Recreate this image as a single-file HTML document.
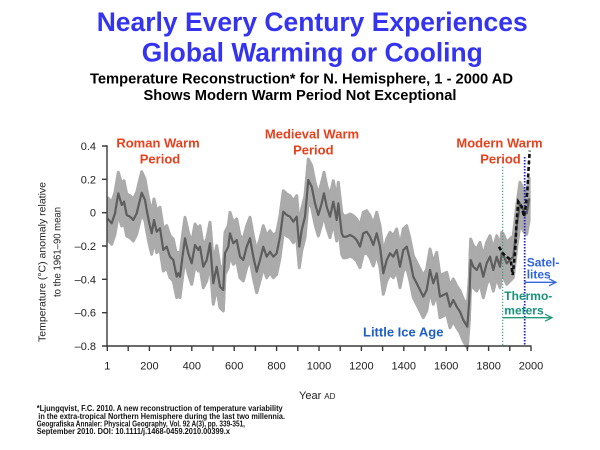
<!DOCTYPE html>
<html><head><meta charset="utf-8">
<style>
html,body{margin:0;padding:0;background:#fff;}
svg{display:block;font-family:"Liberation Sans",Arial,sans-serif;}
</style></head>
<body>
<svg width="600" height="450" viewBox="0 0 600 450" xmlns="http://www.w3.org/2000/svg">
<defs>
<polyline id="m" points="107.3,218.3 111.7,223.3 115,213.3 118.3,193.3 121.7,205 124,201.7 126.7,215 130,216.7 133.3,220 136.7,213.3 141.7,192.7 145,200 146.7,210 149.3,223.3 151.7,233.3 154,220 156.7,231.7 160,228.3 163.3,250 166.7,246.7 170,256.7 173.3,260 176.7,276.7 178.3,273.3 180,276.7 182.7,255 185,238.3 188.3,253.3 191.7,263.3 195,245 198.3,250 200,246.7 203.3,266.7 206.7,260 210,243.3 213.3,283.3 216.7,266.7 220,286.7 223.3,290 225,253.3 228.3,246.7 230,233.3 233.3,243.3 236.7,240 240,256.7 243.3,260 246.7,246.7 250,238.3 253.3,256.7 256.7,271.7 260,260 263.3,246.7 266.7,256.7 270,251.7 273.3,256.7 276.7,253.3 280,236.7 283.3,211.7 286.7,215 290,216.7 293.3,221.7 296.7,216.7 299.3,246.7 301.7,230 305,216.7 308.3,180 311.7,186.7 315,203.3 318.3,215 321.7,203.3 324,193.3 326.7,206.7 330,216.7 333.3,201.7 336.7,220 338.3,203.3 341.7,233.3 343.3,236.7 346.7,236.7 350,235 353.3,236.7 356.7,240 360,246.7 363.3,233.3 366.7,231.7 370,236.7 373.3,245 376.7,233.3 380,246.7 383.3,273.3 386.7,260 390,253.3 393.3,256.7 396.7,250 400,266.7 403.3,250 406.7,246.7 410,260 413.3,276.7 416.7,283.3 420,290 423.3,296.7 426.7,290 430,270 433.3,283.3 436.7,273.3 440,296.7 443.3,295 446.7,293.3 450,306.7 453.3,300 456.7,306.7 460,311.7 463.3,320 467.3,326.7 469.3,300 470.7,260 473.3,266.7 476.7,270 480,263.3 483.3,276.7 486.7,263.3 490,256.7 493.3,270 496.7,256.7 500,266.7 501.7,253.3 503.3,255 506.7,263.3 510,260 513.3,256.7 516.7,226.7 520,203.3 523.3,210 526.7,213.3 529.3,198.3"/>
<marker id="ab" markerWidth="8" markerHeight="8" refX="6" refY="4" orient="auto" markerUnits="userSpaceOnUse"><path d="M0,0.5 L7,4 L0,7.5" fill="none" stroke="#3366dd" stroke-width="1.3"/></marker>
<marker id="ag" markerWidth="8" markerHeight="8" refX="6" refY="4" orient="auto" markerUnits="userSpaceOnUse"><path d="M0,0.5 L7,4 L0,7.5" fill="none" stroke="#22997a" stroke-width="1.3"/></marker>
</defs>

<!-- Titles -->
<text x="312.2" y="31" font-size="26.6" font-weight="bold" fill="#3434f0" text-anchor="middle" textLength="431" lengthAdjust="spacingAndGlyphs">Nearly Every Century Experiences</text>
<text x="312.3" y="61.7" font-size="26.6" font-weight="bold" fill="#3434f0" text-anchor="middle" textLength="341" lengthAdjust="spacingAndGlyphs">Global Warming or Cooling</text>
<text x="301.5" y="83.3" font-size="14.7" font-weight="bold" fill="#000" text-anchor="middle" textLength="423" lengthAdjust="spacingAndGlyphs">Temperature Reconstruction* for N. Hemisphere, 1 - 2000 AD</text>
<text x="300" y="100" font-size="14.7" font-weight="bold" fill="#000" text-anchor="middle" textLength="313" lengthAdjust="spacingAndGlyphs">Shows Modern Warm Period Not Exceptional</text>

<!-- Band (union of vertically shifted copies) -->
<g fill="none" stroke="#ababab" stroke-width="3" stroke-linejoin="round">
<use href="#m" y="-21"/><use href="#m" y="-19"/><use href="#m" y="-17"/><use href="#m" y="-15"/><use href="#m" y="-13"/><use href="#m" y="-11"/><use href="#m" y="-9"/><use href="#m" y="-7"/><use href="#m" y="-5"/><use href="#m" y="-3"/><use href="#m" y="-1"/><use href="#m" y="1"/><use href="#m" y="3"/><use href="#m" y="5"/><use href="#m" y="7"/><use href="#m" y="9"/><use href="#m" y="11"/><use href="#m" y="13"/><use href="#m" y="15"/><use href="#m" y="17"/><use href="#m" y="19"/><use href="#m" y="21"/>
</g>
<!-- Mean line -->
<use href="#m" fill="none" stroke="#5e5e5e" stroke-width="2.2" stroke-linejoin="round"/>

<!-- Vertical dotted lines -->
<line x1="502.7" y1="166.7" x2="502.7" y2="346" stroke="#2a9a6a" stroke-width="1.2" stroke-dasharray="1.2,1.8"/>
<line x1="524.7" y1="157" x2="524.7" y2="346" stroke="#2222cc" stroke-width="1.8" stroke-dasharray="1.5,1.5"/>

<!-- Black dashed instrumental line -->
<polyline points="499,246.7 502.7,253.3 506.7,256.7 510.7,260 512.7,275 515,253.3 516.7,220 518.3,201.7 521.7,206.7 524,216.7 525.7,206.7 527.3,191.7 528.3,173.3 529.7,150.7" fill="none" stroke="#111" stroke-width="2.6" stroke-dasharray="4,2.5"/>

<!-- Axes -->
<g stroke="#3a3a3a" stroke-width="1.4" fill="none">
<line x1="107" y1="145.3" x2="107" y2="346.7"/>
<line x1="106.3" y1="346" x2="531.5" y2="346"/>
<path d="M102,146H107M102,179.3H107M102,212.7H107M102,246H107M102,279.3H107M102,312.7H107M102,346H107"/>
<path d="M107.3,346V351M128.2,346V351M149.4,346V351M170.6,346V351M191.8,346V351M213,346V351M234.2,346V351M255.4,346V351M276.6,346V351M297.8,346V351M319,346V351M340.2,346V351M361.4,346V351M382.6,346V351M403.8,346V351M425,346V351M446.2,346V351M467.4,346V351M488.6,346V351M509.8,346V351M531,346V351"/>
</g>

<!-- Y tick labels -->
<g font-size="11" fill="#222" text-anchor="end">
<text x="96" y="150">0.4</text>
<text x="96" y="183.3">0.2</text>
<text x="96" y="216.7">0</text>
<text x="96" y="250">–0.2</text>
<text x="96" y="283.3">–0.4</text>
<text x="96" y="316.7">–0.6</text>
<text x="96" y="350">–0.8</text>
</g>

<!-- X tick labels -->
<g font-size="11" fill="#222" text-anchor="middle">
<text x="107.3" y="369.5">1</text>
<text x="149.4" y="369.5">200</text>
<text x="191.8" y="369.5">400</text>
<text x="234.2" y="369.5">600</text>
<text x="276.6" y="369.5">800</text>
<text x="319" y="369.5">1000</text>
<text x="361.4" y="369.5">1200</text>
<text x="403.8" y="369.5">1400</text>
<text x="446.2" y="369.5">1600</text>
<text x="488.6" y="369.5">1800</text>
<text x="531" y="369.5">2000</text>
</g>

<!-- X axis title -->
<text x="299" y="399" font-size="11" fill="#222">Year <tspan font-size="8">AD</tspan></text>

<!-- Y axis title -->
<text transform="translate(45.5,262) rotate(-90)" font-size="10.5" fill="#222" text-anchor="middle" textLength="160" lengthAdjust="spacingAndGlyphs">Temperature (°C) anomaly relative</text>
<text transform="translate(60.5,252) rotate(-90)" font-size="10.5" fill="#222" text-anchor="middle" textLength="90" lengthAdjust="spacingAndGlyphs">to the 1961–90 mean</text>

<!-- Period labels -->
<g font-size="13" font-weight="bold" fill="#e8401c" text-anchor="middle">
<text x="158" y="147.3">Roman Warm</text>
<text x="160" y="163.3">Period</text>
<text x="312" y="138.3">Medieval Warm</text>
<text x="313.3" y="154.3">Period</text>
<text x="499.5" y="147.5">Modern Warm</text>
<text x="500.5" y="163.3">Period</text>
</g>
<text x="363" y="336.7" font-size="13" font-weight="bold" fill="#1e5ec8">Little Ice Age</text>

<!-- Satellites / Thermometers -->
<g font-size="12" font-weight="bold">
<text x="526.7" y="266.7" fill="#2f64e0">Satel-</text>
<text x="526.7" y="278.3" fill="#2f64e0">lites</text>
<text x="504.3" y="300" fill="#17907a">Thermo-</text>
<text x="504.3" y="314.5" fill="#17907a">meters</text>
</g>
<line x1="524.5" y1="282.3" x2="555" y2="282.3" stroke="#3366dd" stroke-width="1.3" marker-end="url(#ab)"/>
<line x1="503" y1="317.7" x2="551" y2="317.7" stroke="#22997a" stroke-width="1.3" marker-end="url(#ag)"/>

<!-- Footnote -->
<g font-size="8" font-weight="bold" fill="#111">
<text x="36.7" y="411" textLength="246" lengthAdjust="spacingAndGlyphs">*Ljungqvist, F.C. 2010. A new reconstruction of temperature variability</text>
<text x="38.3" y="418.8" textLength="246.7" lengthAdjust="spacingAndGlyphs">in the extra-tropical Northern Hemisphere during the last two millennia.</text>
<text x="36.7" y="426.5" textLength="208.3" lengthAdjust="spacingAndGlyphs">Geografiska Annaler: Physical Geography, Vol. 92 A(3), pp. 339-351,</text>
<text x="36.7" y="434.2" textLength="193.3" lengthAdjust="spacingAndGlyphs">September 2010. DOI: 10.1111/j.1468-0459.2010.00399.x</text>
</g>
</svg>
</body></html>
